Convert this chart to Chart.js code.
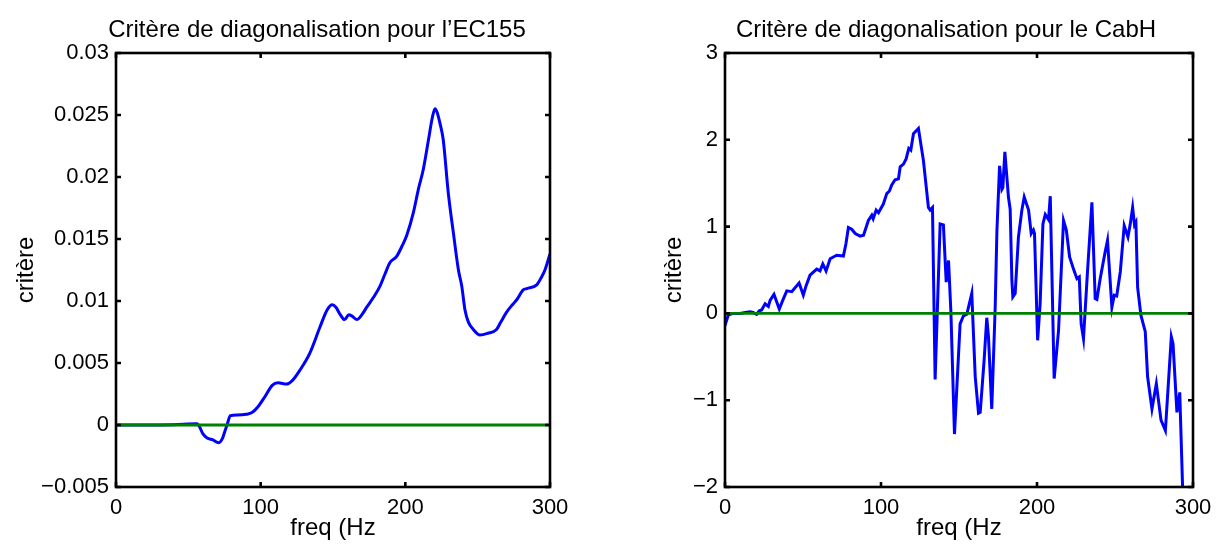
<!DOCTYPE html>
<html><head><meta charset="utf-8">
<script src="https://cdn.jsdelivr.net/npm/chart.js@4.4.1/dist/chart.umd.min.js"></script>
<style>
html,body{margin:0;padding:0;background:#fff;}
#wrap{position:relative;width:1220px;height:545px;overflow:hidden;background:#fff;}
.box{position:absolute;top:0;height:545px;}
#b1{left:0;width:577px;}
#b2{left:610px;width:610px;}
</style></head><body>
<div id="wrap"><div class="box" id="b1"><canvas id="c1"></canvas></div><div class="box" id="b2"><canvas id="c2"></canvas></div></div>
<script>
const FONT = '"Liberation Sans", Arial, Helvetica, sans-serif';

const freqTicks = [0, 100, 200, 300];
const freqTickLabels = ['0', '100', '200', '300'];

const ecFreq = [0, 20, 40, 56, 58, 60, 63, 67, 71, 73.5, 75, 77, 79, 84, 90, 94, 98, 103, 108, 112, 118, 122, 127, 134, 141, 146, 149.5, 152, 155, 158, 161, 163, 166.4, 170, 173.3, 178, 182.5, 186, 189.4, 194, 198, 201, 205.5, 209, 212.4, 216, 218.5, 220.5, 222, 224, 226.2, 229.7, 233.2, 236.7, 239, 241.2, 243.6, 247, 251.6, 257, 263, 266, 270, 274, 277, 281.5, 284, 290.8, 294, 296.5, 300];
const ecCrit = [0, 0, 0.00003, 0.0001, -0.0002, -0.0007, -0.00105, -0.0012, -0.00143, -0.0011, -0.0006, 0.0001, 0.00075, 0.0008, 0.00086, 0.001, 0.00145, 0.0023, 0.0032, 0.0034, 0.0033, 0.0036, 0.0044, 0.0058, 0.0079, 0.0093, 0.0097, 0.0095, 0.0089, 0.0085, 0.0089, 0.0088, 0.0085, 0.0089, 0.0095, 0.0103, 0.0112, 0.0122, 0.0131, 0.0136, 0.0145, 0.0153, 0.0171, 0.019, 0.0206, 0.023, 0.0247, 0.0255, 0.0252, 0.0243, 0.023, 0.0187, 0.0155, 0.0125, 0.0112, 0.0093, 0.0083, 0.0077, 0.00726, 0.0074, 0.0077, 0.0083, 0.0091, 0.0097, 0.0101, 0.0109, 0.011, 0.0113, 0.0119, 0.0125, 0.0138];
const ecTicks = [-0.005, 0, 0.005, 0.01, 0.015, 0.02, 0.025, 0.03];
const ecTickLabels = ['\u22120.005', '0', '0.005', '0.01', '0.015', '0.02', '0.025', '0.03'];

const cabFreq = [0, 2.1, 5, 9.6, 13, 16, 18, 20.3, 22, 23.5, 25.7, 27.8, 28.9, 31.4, 34.8, 37, 39.6, 42.8, 47.5, 50.2, 52, 54.5, 58.8, 60.9, 62.7, 64.8, 67.4, 71.6, 75.9, 77.5, 79.1, 81.2, 83.5, 86.6, 88.8, 91.9, 94.1, 95, 96.9, 98.4, 101.5, 103.7, 105.4, 106.9, 109, 111.2, 112.3, 114.4, 116.1, 117.8, 119.1, 120.8, 124, 127.2, 130.4, 131.5, 133, 134.7, 137.9, 140, 141.8, 143.3, 144.8, 147.1, 150.7, 152.8, 155, 158.2, 160.4, 162.5, 163.6, 166.1, 167.8, 168.9, 171, 173.2, 174.3, 176, 177.5, 178.1, 179.4, 181.7, 182.8, 183.9, 184.5, 186, 188.1, 190.3, 191.8, 194.6, 196.3, 197.7, 198.4, 200.4, 202, 203.8, 205.3, 207.4, 208.5, 211, 213.8, 217, 218.8, 220.9, 223.4, 225.6, 227.1, 228.3, 229.8, 232.4, 235.2, 237.3, 238.4, 240.5, 243.7, 245.2, 248, 249.5, 251.1, 253.4, 255.9, 258.3, 259.7, 261.3, 262.5, 263.4, 264.5, 266.6, 269.4, 270.9, 273.7, 276.5, 279.5, 282.3, 286.1, 287.2, 289.7, 291.5, 294];
const cabCrit = [-0.14, -0.02, 0, 0, 0.01, 0.02, 0.01, -0.01, 0.03, 0.04, 0.11, 0.08, 0.15, 0.22, 0.05, 0.15, 0.26, 0.25, 0.35, 0.21, 0.32, 0.44, 0.51, 0.49, 0.57, 0.49, 0.63, 0.67, 0.66, 0.8, 0.99, 0.97, 0.92, 0.89, 0.9, 1.07, 1.13, 1.09, 1.19, 1.16, 1.26, 1.38, 1.41, 1.48, 1.54, 1.55, 1.69, 1.72, 1.78, 1.9, 1.88, 2.07, 2.13, 1.76, 1.22, 1.19, 1.22, -0.76, 1.03, 1.02, 0.36, 0.61, 0.02, -1.39, -0.12, -0.03, -0.01, 0.23, -0.73, -1.15, -1.14, -0.54, -0.05, -0.27, -1.1, 0.07, 0.95, 1.7, 1.43, 1.45, 1.86, 1.34, 1.2, 0.38, 0.19, 0.23, 0.88, 1.19, 1.34, 1.19, 0.92, 0.96, 0.92, -0.31, 0.11, 1.03, 1.14, 1.08, 1.35, -0.75, -0.2, 1.07, 0.96, 0.65, 0.51, 0.4, 0.42, -0.12, -0.29, 0.49, 1.28, 0.17, 0.16, 0.4, 0.71, 0.84, 0.07, 0.21, 0.2, 0.48, 1.01, 0.88, 1.02, 1.22, 1.02, 1.05, 0.3, -0.02, -0.21, -0.73, -1.1, -0.81, -1.23, -1.35, -0.27, -0.35, -1.14, -0.91, -2.4];
const cabTicks = [-2, -1, 0, 1, 2, 3];
const cabTickLabels = ['\u22122', '\u22121', '0', '1', '2', '3'];

const zeroFreq = [0, 300];
const zeroCrit = [0, 0];

const titleLeft = 'Critère de diagonalisation pour l\u2019EC155';
const titleRight = 'Critère de diagonalisation pour le CabH';
const xLabel = 'freq (Hz';
const yLabel = 'critère';

const matlabBox = {
  id: 'matlabBox',
  afterDatasetsDraw(chart, args, opts) {
    const ctx = chart.ctx, a = chart.chartArea, xs = chart.scales.x, ys = chart.scales.y;
    ctx.save();
    ctx.strokeStyle = '#000';
    ctx.lineWidth = opts.lineWidth;
    ctx.lineCap = 'butt';
    ctx.beginPath();
    const L = opts.tickLen;
    xs.ticks.forEach(t => {
      const p = xs.getPixelForValue(t.value);
      ctx.moveTo(p, a.bottom); ctx.lineTo(p, a.bottom - L);
      ctx.moveTo(p, a.top); ctx.lineTo(p, a.top + L);
    });
    ys.ticks.forEach(t => {
      const p = ys.getPixelForValue(t.value);
      ctx.moveTo(a.left, p); ctx.lineTo(a.left + L, p);
      ctx.moveTo(a.right, p); ctx.lineTo(a.right - L, p);
    });
    ctx.stroke();
    ctx.strokeRect(a.left, a.top, a.right - a.left, a.bottom - a.top);
    ctx.fillStyle = '#000';
    ctx.font = opts.titleSize + 'px ' + FONT;
    ctx.textAlign = 'center';
    ctx.textBaseline = 'alphabetic';
    ctx.fillText(opts.title, (a.left + a.right) / 2 + opts.titleDx, opts.titleY);
    ctx.restore();
  }
};

function pts(xs, ys) { return xs.map((x, i) => ({x: x, y: ys[i]})); }

function makeChart(id, c) {
  return new Chart(document.getElementById(id), {
    type: 'line',
    data: {
      datasets: [
        {data: pts(zeroFreq, zeroCrit), borderColor: '#008000', borderWidth: 2.8, pointRadius: 0, order: 0, tension: 0},
        {data: pts(c.xs, c.ys), borderColor: '#0000ff', borderWidth: 3, pointRadius: 0, order: 1,
         tension: c.tension, cubicInterpolationMode: c.cubic}
      ]
    },
    options: {
      responsive: true, maintainAspectRatio: false, animation: false, events: [],
      layout: {padding: {left: 0, right: c.padRight, top: 53, bottom: 0}},
      plugins: {
        legend: {display: false}, tooltip: {enabled: false},
        matlabBox: {lineWidth: 2.6, tickLen: 5, title: c.title, titleDx: c.titleDx, titleY: 37, titleSize: 24}
      },
      scales: {
        x: {
          type: 'linear', min: 0, max: 300,
          afterBuildTicks: s => { s.ticks = freqTicks.map(v => ({value: v})); },
          afterFit: s => { s.height = 58; },
          ticks: {callback: (v, i) => freqTickLabels[i], font: {family: FONT, size: 22}, color: '#000', padding: 8, maxRotation: 0, autoSkip: false},
          grid: {display: false, drawTicks: false}, border: {display: false},
          title: {display: true, text: xLabel, font: {family: FONT, size: 24}, color: '#000', padding: {top: 0, bottom: 2}}
        },
        y: {
          type: 'linear', min: c.yTicks[0], max: c.yTicks[c.yTicks.length - 1],
          afterBuildTicks: s => { s.ticks = c.yTicks.map(v => ({value: v})); },
          afterFit: s => { s.width = c.yWidth; },
          ticks: {callback: (v, i) => c.yLabels[i], font: {family: FONT, size: 22}, color: '#000', padding: 7, autoSkip: false},
          grid: {display: false, drawTicks: false}, border: {display: false},
          title: {display: true, text: yLabel, font: {family: FONT, size: 24}, color: '#000', padding: {top: c.yTitlePad, bottom: 0}}
        }
      }
    },
    plugins: [matlabBox]
  });
}

makeChart('c1', {xs: ecFreq, ys: ecCrit, tension: 0.4, cubic: 'monotone', padRight: 27, yWidth: 116,
  yTicks: ecTicks, yLabels: ecTickLabels, yTitlePad: 12, title: titleLeft, titleDx: -16});
makeChart('c2', {xs: cabFreq, ys: cabCrit, tension: 0, cubic: 'default', padRight: 27, yWidth: 115,
  yTicks: cabTicks, yLabels: cabTickLabels, yTitlePad: 50, title: titleRight, titleDx: -13});
</script>
</body></html>
